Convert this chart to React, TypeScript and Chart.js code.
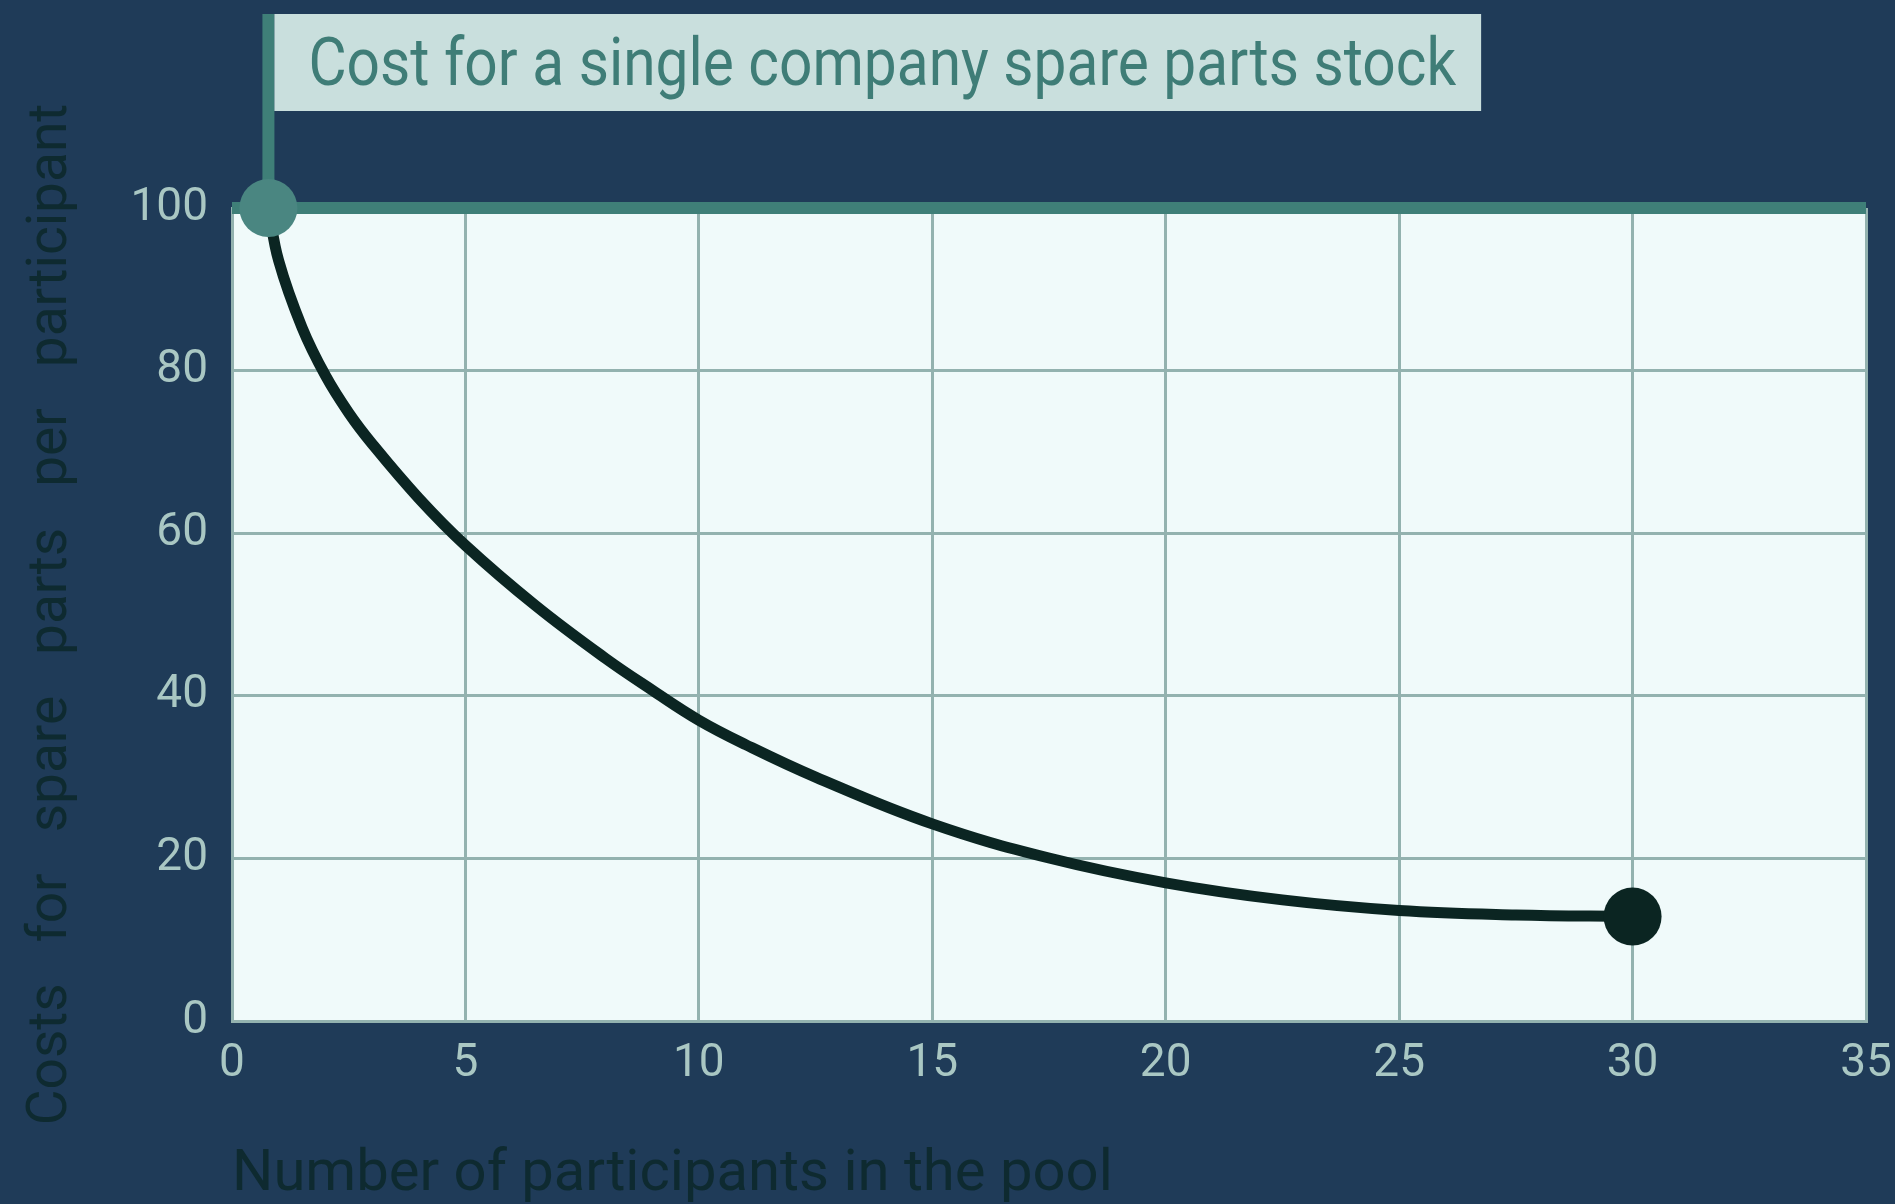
import { useEffect, useRef } from 'react';
import { Chart, registerables } from 'chart.js';

Chart.register(...registerables);

// ---- data ----
const participants = [0.78, 1, 1.5, 2, 2.5, 3, 4, 5, 6.5, 8, 9, 10, 11, 12.5, 15, 17.5, 20, 22.5, 25, 27.5, 30];
const costPerParticipant = [100, 93.5, 85.3, 79.4, 74.8, 71.0, 64.3, 58.5, 51.1, 44.6, 40.7, 37.0, 34.0, 30.0, 24.25, 20.05, 17.0, 14.9, 13.6, 13.05, 12.85];
const singleCompanyX = [0, 35];
const singleCompanyCost = [100, 100];
const xRange = [0, 35];
const xStep = 5;
const yRange = [0, 100];
const yStep = 20;
const annotationText = 'Cost for a single company spare parts stock';
const xTitle = 'Number of participants in the pool';
const yTitle = 'Costs   for   spare   parts   per   participant';

// ---- styles ----
const NAVY = '#1f3b58';
const PLOT_BG = '#f0fafa';
const GRID = '#93b2af';
const TICK = '#a9c7c3';
const TEAL = '#3f7f78';
const DOT_TEAL = '#4a8681';
const CURVE = '#0b2522';
const BOX_BG = '#c9dfdd';
const BOX_TEXT = '#3f7d77';
const TITLE_DARK = '#0e2a30';
const FONT = "'Roboto', sans-serif";

const decor = {
  id: 'decor',
  beforeDraw(chart: any) {
    const { ctx, chartArea: a, width, height } = chart;
    ctx.save();
    ctx.fillStyle = NAVY;
    ctx.fillRect(0, 0, width, height);
    ctx.fillStyle = PLOT_BG;
    ctx.fillRect(a.left, a.top, a.right - a.left, a.bottom - a.top);
    ctx.restore();
  },
  beforeDatasetsDraw(chart: any) {
    const { ctx } = chart;
    const x = chart.scales.x.getPixelForValue(participants[0]);
    const y = chart.scales.y.getPixelForValue(costPerParticipant[0]);
    const top = 14;
    const boxH = 97;
    const squeeze = 0.875; // condensed look
    ctx.save();
    ctx.fillStyle = TEAL;
    ctx.fillRect(x - 6, top, 12, y - top);
    ctx.font = `67px ${FONT}`;
    const tw = ctx.measureText(annotationText).width * squeeze;
    const boxLeft = x + 6;
    const textX = boxLeft + 34;
    ctx.fillStyle = BOX_BG;
    ctx.fillRect(boxLeft, top, textX + tw + 25 - boxLeft, boxH);
    ctx.fillStyle = BOX_TEXT;
    ctx.textBaseline = 'alphabetic';
    ctx.textAlign = 'left';
    ctx.translate(textX, top + 71);
    ctx.scale(squeeze, 1);
    ctx.fillText(annotationText, 0, 0);
    ctx.restore();
  },
};

const noPadding = () => ({ left: 0, top: 0, right: 0, bottom: 0 });

export default function App() {
  const ref = useRef<HTMLCanvasElement | null>(null);

  useEffect(() => {
    if (!ref.current) return;
    const lastIdx = participants.length - 1;
    const chart = new Chart(ref.current, {
      type: 'line',
      data: {
        datasets: [
          {
            label: 'Costs per participant',
            data: participants.map((p, i) => ({ x: p, y: costPerParticipant[i] })),
            borderColor: CURVE,
            borderWidth: 11,
            tension: 0.4,
            pointRadius: participants.map((_, i) => (i === 0 || i === lastIdx ? 29 : 0)),
            pointHoverRadius: participants.map((_, i) => (i === 0 || i === lastIdx ? 29 : 0)),
            pointBackgroundColor: participants.map((_, i) => (i === 0 ? DOT_TEAL : CURVE)),
            pointBorderWidth: 0,
            clip: false,
            fill: false,
          } as any,
          {
            label: annotationText,
            data: singleCompanyX.map((p, i) => ({ x: p, y: singleCompanyCost[i] })),
            borderColor: TEAL,
            borderWidth: 12,
            pointRadius: 0,
            clip: false,
            fill: false,
          } as any,
        ],
      },
      options: {
        animation: false,
        responsive: false,
        maintainAspectRatio: false,
        devicePixelRatio: 1,
        layout: { padding: { top: 208, right: 22, left: 0, bottom: 0 } },
        plugins: {
          legend: { display: false },
          tooltip: { enabled: false },
        },
        scales: {
          x: {
            type: 'linear',
            min: xRange[0],
            max: xRange[1],
            ticks: {
              stepSize: xStep,
              color: TICK,
              padding: 20,
              font: { family: FONT, size: 46, lineHeight: 1 },
            },
            grid: { color: GRID, lineWidth: 3, drawTicks: false },
            border: { color: GRID, width: 3 },
            title: {
              display: true,
              text: xTitle,
              align: 'start',
              color: TITLE_DARK,
              font: { family: FONT, size: 58, lineHeight: 1 },
              padding: { top: 0, bottom: 0 },
            },
            afterFit(scale: any) {
              scale.height = 183;
              scale.paddingLeft = 0;
              scale.paddingRight = 0;
              scale.getPadding = noPadding;
            },
          },
          y: {
            type: 'linear',
            min: yRange[0],
            max: yRange[1],
            ticks: {
              stepSize: yStep,
              color: TICK,
              padding: 24,
              font: { family: FONT, size: 46, lineHeight: 1 },
            },
            grid: { color: GRID, lineWidth: 3, drawTicks: false },
            border: { color: GRID, width: 3 },
            title: {
              display: true,
              text: yTitle,
              color: TITLE_DARK,
              font: { family: FONT, size: 55, lineHeight: 1 },
              padding: { top: 25, bottom: 0 },
            },
            afterFit(scale: any) {
              scale.width = 232;
              scale.paddingTop = 0;
              scale.paddingBottom = 0;
              scale.getPadding = noPadding;
            },
          },
        },
      } as any,
      plugins: [decor],
    });
    return () => chart.destroy();
  }, []);

  return (
    <div
      style={{
        position: 'fixed',
        left: 0,
        top: 0,
        width: 1895,
        height: 1204,
        overflow: 'hidden',
        background: NAVY,
      }}
    >
      <canvas ref={ref} width={1895} height={1204} style={{ width: 1895, height: 1204, display: 'block' }} />
    </div>
  );
}
